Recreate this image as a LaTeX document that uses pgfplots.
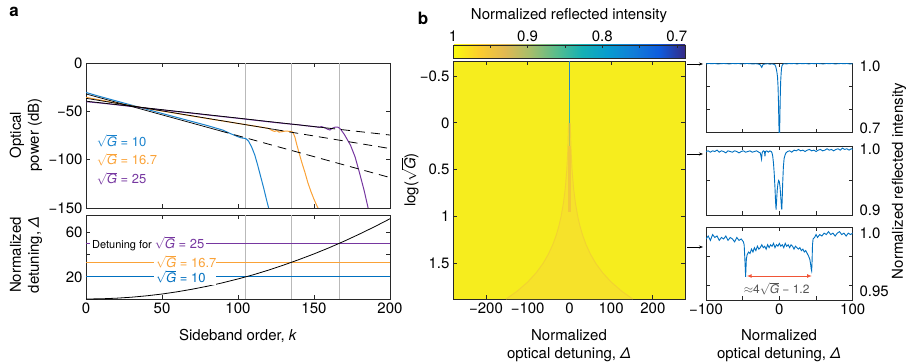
\documentclass[border=0pt]{standalone}
\usepackage{pgfplots}
\pgfplotsset{compat=1.18}
\usepackage{fontspec}
\setmainfont{TeX Gyre Heros}
\usetikzlibrary{arrows.meta}
\definecolor{cblue}{RGB}{25,130,205}
\definecolor{cblue2}{RGB}{0,112,192}
\definecolor{corange}{RGB}{250,162,55}
\definecolor{cpurple}{RGB}{118,55,160}
\definecolor{axgray}{RGB}{40,40,40}
\definecolor{vgray}{RGB}{185,185,185}
\definecolor{hmyellow}{RGB}{246,237,30}
\definecolor{hmcusp}{RGB}{246,226,42}
\definecolor{hmedge}{RGB}{242,210,50}
\definecolor{cred}{RGB}{240,85,55}
\newcommand{\fs}[1]{\fontsize{#1}{#1}\selectfont}
\newcommand{\sG}{$\sqrt{\textit{G}}$}
\pgfplotsset{
  colormap={parula}{rgb255=(53,42,135) rgb255=(15,92,221) rgb255=(18,125,216) rgb255=(7,156,207) rgb255=(21,177,180) rgb255=(89,189,140) rgb255=(165,190,107) rgb255=(225,185,82) rgb255=(252,206,46) rgb255=(249,251,14)},
  base/.style={scale only axis, anchor=south west,
    axis line style={draw=axgray,line width=0.8pt},
    tick style={draw=axgray,line width=0.8pt},
    tick align=inside, major tick length=4pt,
    tick label style={font=\fs{15}}, clip=true},
}
\begin{document}
\begin{tikzpicture}
% ---------------- panel a, top
\begin{axis}[base, at={(86pt,-208pt)}, width=304pt, height=145pt,
  xmin=0, xmax=200, ymin=-150, ymax=0,
  xtick={0,50,100,150,200}, xticklabels={},
  ytick={-150,-100,-50,0}, yticklabels={−150,−100,−50,0}]
\addplot[vgray, line width=1pt] coordinates {(105,-150) (105,0)};
\addplot[vgray, line width=1pt] coordinates {(135,-150) (135,0)};
\addplot[vgray, line width=1pt] coordinates {(167,-150) (167,0)};
\addplot[cblue, line width=1pt] coordinates {(0,-30.5) (10,-35) (20,-39.3) (30,-43.6) (40,-47.9) (50,-52.2) (60,-56.4) (70,-60.6) (80,-64.8) (90,-69.4) (94.7,-72.8) (100,-76.3) (102,-77.4) (104.6,-78) (105.5,-78.6) (107,-81) (109,-87) (111,-95) (113,-106) (115,-118) (117,-130) (119,-143) (120.5,-152)};
\addplot[corange, line width=1pt] coordinates {(0,-35.5) (10,-38.5) (20,-41.5) (30,-44.3) (40,-47) (50,-49.7) (60,-52.3) (70,-54.9) (80,-57.5) (90,-60) (100,-62.5) (110,-65) (115,-66.3) (120,-67.6) (122,-69.5) (124,-70.8) (125.5,-70) (127,-71.5) (129,-71) (131,-70.5) (133,-70.6) (135.5,-71) (136.5,-73) (137.5,-77) (138.6,-84) (140,-92) (142,-103) (144,-113) (146,-124) (148,-133) (150,-141) (152,-148) (153.3,-152)};
\addplot[cpurple, line width=1pt] coordinates {(0,-40) (10,-41.5) (20,-43.2) (30,-45) (40,-46.8) (50,-48.5) (60,-50.3) (70,-52) (80,-53.8) (90,-55.5) (100,-57.2) (110,-59) (120,-60.8) (130,-62.5) (140,-64) (145,-65) (150,-65.8) (153,-66.5) (155,-65.8) (157,-67) (159,-68.5) (160.5,-69.3) (162,-67.5) (164,-66.3) (166,-66.5) (167.5,-68.5) (170,-74) (172,-79.5) (174,-85) (177,-97) (180,-114) (183,-132) (185.6,-150) (186,-153)};
\addplot[black, line width=0.7pt] coordinates {(0,-32) (88,-70.06)};
\addplot[black, line width=0.8pt, dash pattern=on 9pt off 6pt] coordinates {(88,-70.06) (200,-118.5)};
\addplot[black, line width=0.7pt] coordinates {(0,-36.5) (124,-68.74)};
\addplot[black, line width=0.8pt, dash pattern=on 9pt off 6pt] coordinates {(124,-68.74) (200,-88.5)};
\addplot[black, line width=0.7pt] coordinates {(0,-39.5) (158,-67.15)};
\addplot[black, line width=0.8pt, dash pattern=on 9pt off 6pt] coordinates {(158,-67.15) (200,-74.5)};
\node[anchor=west, inner sep=0pt, text=cblue, font=\fs{13}] at (axis cs:7,-80.4) {\sG\ = 10};
\node[anchor=west, inner sep=0pt, text=corange, font=\fs{13}] at (axis cs:7,-99.6) {\sG\ = 16.7};
\node[anchor=west, inner sep=0pt, text=cpurple, font=\fs{13}] at (axis cs:7,-119.3) {\sG\ = 25};
\end{axis}
% ---------------- panel a, bottom
\begin{axis}[base, at={(86pt,-299pt)}, width=304pt, height=84pt,
  xmin=0, xmax=200, ymin=0, ymax=76,
  xtick={0,50,100,150,200}, xticklabels={0,50,100,150,200},
  ytick={20,40,60}, yticklabels={20,,60}]
\addplot[vgray, line width=1pt] coordinates {(105,0) (105,76)};
\addplot[vgray, line width=1pt] coordinates {(135,0) (135,76)};
\addplot[vgray, line width=1pt] coordinates {(167,0) (167,76)};
\addplot[cblue2, line width=1pt] coordinates {(0,20) (200,20)};
\addplot[corange, line width=1pt] coordinates {(0,33.4) (200,33.4)};
\addplot[cpurple, line width=1pt] coordinates {(0,50) (200,50)};
\addplot[black, line width=0.8pt] coordinates {(0,0) (10,0.18) (20,0.73) (30,1.63) (40,2.9) (50,4.5) (60,6.53) (70,8.9) (80,11.6) (90,14.7) (100,18.14) (110,21.9) (120,26.1) (130,30.7) (140,35.6) (150,40.8) (160,46.4) (170,52.4) (180,58.8) (190,65.5) (200,72.6)};
\node[anchor=west, fill=white, inner sep=2pt, font=\fs{11}] at (axis cs:2.6,50) {Detuning for \textcolor{cpurple}{\fs{13}\sG\ = 25}};
\node[anchor=west, fill=white, inner sep=2pt, text=corange, font=\fs{13}] at (axis cs:44.7,33.4) {\makebox[58pt][l]{\sG\ = 16.7}};
\node[anchor=west, fill=white, inner sep=2pt, text=cblue2, font=\fs{13}] at (axis cs:44.7,20) {\makebox[58pt][l]{\sG\ = 10}};
\end{axis}
% ---------------- panel b, heat map
\begin{axis}[base, at={(453pt,-299pt)}, width=232pt, height=238pt,
  xmin=-279, xmax=277, ymin=-0.66, ymax=1.88, y dir=reverse,
  axis background/.style={fill=hmyellow},
  xtick={-200,-100,0,100,200}, xticklabels={−200,−100,0,100,200},
  ytick={-0.5,0,0.5,1,1.5}, yticklabels={−0.5,0,0.5,1,1.5},
  colormap name=parula, point meta min=0.689, point meta max=1,
  colorbar horizontal,
  colorbar style={at={(0,1.0126)}, anchor=south west,
    scale only axis, width=232pt, height=13pt, x dir=reverse,
    axis line style={draw=axgray,line width=0.8pt},
    tick style={draw=axgray,line width=0.6pt},
    xtick={0.7,0.75,0.8,0.85,0.9,0.95,1},
    xticklabels={0.7,,0.8,,0.9,,1},
    xticklabel pos=upper, xtick pos=right, tick align=inside,
    major tick length=3pt, tick label style={font=\fs{15}}}]
\addplot[draw=none, fill=hmcusp] coordinates {(-0.44,-0.66) (-0.8,-0.4) (-2,0) (-4,0.3) (-6.3,0.5) (-10,0.7) (-14.2,0.85) (-20,1) (-25.2,1.1) (-31.7,1.2) (-39.9,1.3) (-50.2,1.4) (-63.2,1.5) (-79.6,1.6) (-100.2,1.7) (-126.2,1.8) (-151.7,1.88) (151.7,1.88) (126.2,1.8) (100.2,1.7) (79.6,1.6) (63.2,1.5) (50.2,1.4) (39.9,1.3) (31.7,1.2) (25.2,1.1) (20,1) (14.2,0.85) (10,0.7) (6.3,0.5) (4,0.3) (2,0) (0.8,-0.4) (0.44,-0.66)} --cycle;
\addplot[hmedge, line width=0.9pt] coordinates {(-2,0) (-4,0.3) (-6.3,0.5) (-10,0.7) (-14.2,0.85) (-20,1) (-25.2,1.1) (-31.7,1.2) (-39.9,1.3) (-50.2,1.4) (-63.2,1.5) (-79.6,1.6) (-100.2,1.7) (-126.2,1.8) (-151.7,1.88)};
\addplot[hmedge, line width=0.9pt] coordinates {(2,0) (4,0.3) (6.3,0.5) (10,0.7) (14.2,0.85) (20,1) (25.2,1.1) (31.7,1.2) (39.9,1.3) (50.2,1.4) (63.2,1.5) (79.6,1.6) (100.2,1.7) (126.2,1.8) (151.7,1.88)};
\addplot[color={rgb,255:red,242;green,200;blue,55}, line width=2.2pt] coordinates {(0,0.25) (0,0.95)};
\addplot[color={rgb,255:red,185;green,195;blue,85}, line width=1.8pt] coordinates {(0,0) (0,0.25)};
\addplot[color={rgb,255:red,55;green,178;blue,172}, line width=1.8pt] coordinates {(0,-0.35) (0,0)};
\addplot[color={rgb,255:red,35;green,135;blue,195}, line width=1.8pt] coordinates {(0,-0.66) (0,-0.35)};
\end{axis}
% ---------------- right panels
\begin{axis}[base, at={(706pt,-132.7pt)}, width=146.7pt, height=69.7pt,
  xmin=-100, xmax=100, ymin=0.7, ymax=1.0,
  xtick={-100,-50,0,50,100}, xticklabels={},
  ytick={0.7,0.8,0.9,1.0}, yticklabels={}]
\addplot[cblue2, line width=0.9pt] coordinates {(-100,0.996) (-96,0.998) (-92,0.997) (-88,0.998) (-84,0.996) (-80,0.997) (-76,0.998) (-72,0.997) (-68,0.996) (-64,0.998) (-60,0.997) (-56,0.998) (-52,0.996) (-48,0.997) (-44,0.998) (-40,0.997) (-36,0.996) (-32,0.997) (-28,0.995) (-26,0.992) (-25,0.986) (-24,0.981) (-23,0.989) (-22,0.994) (-19,0.996) (-16,0.997) (-13,0.995) (-10,0.996) (-8,0.995) (-6,0.992) (-5,0.985) (-4,0.972) (-3.2,0.958) (-2.5,0.94) (-1.8,0.9) (-1.2,0.83) (-0.7,0.75) (-0.3,0.69) (0.3,0.69) (0.7,0.76) (1.2,0.85) (1.8,0.92) (2.4,0.955) (3,0.978) (3.8,0.99) (5,0.995) (7,0.997) (10,0.996) (13,0.998) (16,0.997) (20,0.998) (24,0.996) (28,0.998) (32,0.997) (36,0.998) (40,0.996) (44,0.998) (48,0.997) (52,0.998) (56,0.997) (60,0.996) (64,0.998) (68,0.997) (72,0.998) (76,0.996) (80,0.997) (84,0.998) (88,0.997) (92,0.998) (96,0.996) (100,0.997)};
\end{axis}
\begin{axis}[base, at={(706pt,-215pt)}, width=146.7pt, height=69pt,
  xmin=-100, xmax=100, ymin=0.9, ymax=1.0,
  xtick={-100,-50,0,50,100}, xticklabels={},
  ytick={0.9,0.95,1.0}, yticklabels={}]
\addplot[cblue2, line width=0.9pt] coordinates {(-100,0.992) (-97,0.993) (-94,0.991) (-91,0.993) (-88,0.992) (-85,0.994) (-82,0.991) (-79,0.993) (-76,0.992) (-73,0.990) (-70,0.993) (-67,0.992) (-64,0.991) (-61,0.993) (-58,0.992) (-55,0.990) (-52,0.992) (-49,0.993) (-46,0.991) (-43,0.992) (-40,0.993) (-37,0.991) (-34,0.992) (-31,0.993) (-28,0.991) (-26,0.99) (-25,0.985) (-24.3,0.981) (-23.5,0.99) (-22,0.993) (-20.3,0.992) (-19.6,0.985) (-19,0.992) (-17,0.993) (-15,0.991) (-13,0.993) (-11,0.992) (-10,0.99) (-9,0.985) (-8,0.975) (-7,0.96) (-6,0.94) (-5.2,0.92) (-4.5,0.908) (-3.8,0.92) (-3,0.935) (-2,0.945) (-1,0.95) (0,0.948) (1,0.94) (2,0.925) (2.8,0.912) (3.3,0.908) (3.8,0.92) (4.5,0.945) (5.5,0.97) (6.5,0.982) (7.8,0.987) (9,0.99) (11,0.992) (14,0.993) (17,0.991) (20,0.994) (23,0.993) (26,0.995) (29,0.993) (32,0.994) (35,0.992) (38,0.994) (41,0.995) (44,0.993) (47,0.994) (50,0.992) (53,0.994) (56,0.995) (59,0.993) (62,0.994) (65,0.996) (68,0.994) (71,0.995) (74,0.993) (77,0.995) (80,0.996) (83,0.994) (86,0.997) (89,0.995) (92,0.996) (95,0.994) (98,0.996) (100,0.995)};
\end{axis}
\begin{axis}[base, at={(706pt,-300pt)}, width=146.7pt, height=72.7pt,
  xmin=-100, xmax=100, ymin=0.95, ymax=1.0,
  xtick={-100,-50,0,50,100}, xticklabels={−100,,0,,100},
  ytick={0.95,0.96,0.98,1.0}, yticklabels={}]
\addplot[cblue2, line width=0.9pt] coordinates {(-100,0.992) (-97,0.994) (-94,0.991) (-91,0.995) (-88,0.993) (-85,0.994) (-82,0.991) (-79,0.993) (-76,0.992) (-73,0.994) (-70,0.991) (-67,0.993) (-64,0.992) (-61,0.990) (-58,0.993) (-55,0.991) (-52,0.992) (-49,0.990) (-48,0.988) (-47.2,0.98) (-46.5,0.972) (-46,0.966) (-45.5,0.972) (-45,0.978) (-44,0.981) (-42,0.983) (-40,0.982) (-38,0.985) (-36,0.983) (-34,0.986) (-32,0.984) (-30,0.987) (-28,0.985) (-26,0.986) (-24,0.988) (-22,0.986) (-20,0.987) (-18,0.985) (-16,0.988) (-14,0.986) (-12,0.988) (-10,0.987) (-8,0.989) (-6,0.986) (-4,0.988) (-2,0.987) (0,0.989) (2,0.987) (4,0.988) (6,0.986) (8,0.989) (10,0.987) (12,0.988) (14,0.986) (16,0.988) (18,0.987) (20,0.985) (22,0.987) (24,0.986) (26,0.985) (28,0.986) (30,0.984) (32,0.985) (34,0.983) (36,0.984) (38,0.982) (40,0.980) (41.5,0.978) (42.5,0.975) (43.5,0.971) (44,0.970) (44.5,0.975) (45.2,0.988) (46,0.992) (48,0.993) (50,0.995) (52,0.993) (55,0.995) (58,0.994) (61,0.996) (64,0.995) (67,0.997) (70,0.995) (73,0.996) (76,0.994) (79,0.996) (82,0.997) (85,0.995) (88,0.996) (91,0.994) (94,0.996) (97,0.995) (100,0.996)};
\addplot[cred, line width=1pt, {Latex[length=5pt,width=4pt]}-{Latex[length=5pt,width=4pt]}] coordinates {(-44.5,0.9665) (44.5,0.9665)};
\node[text=axgray!80, font=\fs{12}] at (axis cs:-3.7,0.958) {$\approx$4\sG\ − 1.2};
\end{axis}
% ---------------- right-panel tick labels (placed as in the reference)
\node[anchor=west, font=\fs{15}] at (856pt,-66.7pt) {1.0};
\node[anchor=west, font=\fs{15}] at (856pt,-128.3pt) {0.7};
\node[anchor=west, font=\fs{15}] at (856pt,-149.3pt) {1.0};
\node[anchor=west, font=\fs{15}] at (856pt,-210.7pt) {0.9};
\node[anchor=west, font=\fs{15}] at (856pt,-233.3pt) {1.0};
\node[anchor=west, font=\fs{15}] at (856pt,-291.7pt) {0.95};
% ---------------- annotations
\draw[-{Stealth[length=4pt,width=3pt]}, line width=0.6pt] (687pt,-64pt) -- (703pt,-64pt);
\draw[-{Stealth[length=4pt,width=3pt]}, line width=0.6pt] (687pt,-154pt) -- (703pt,-154pt);
\draw[-{Stealth[length=4pt,width=3pt]}, line width=0.6pt] (687pt,-247pt) -- (703pt,-247pt);
\node[font=\bfseries\fs{17}] at (14pt,-12pt) {a};
\node[font=\bfseries\fs{17}] at (423pt,-18pt) {b};
\node[rotate=90, align=center, font=\fontsize{15}{18}\selectfont] at (26pt,-135pt) {Optical\\power (dB)};
\node[rotate=90, align=center, font=\fontsize{15}{18}\selectfont] at (26pt,-255pt) {Normalized\\detuning, \textit{Δ}};
\node[font=\fs{15}] at (238pt,-336pt) {Sideband order, \textit{k}};
\node[font=\fs{15}] at (569pt,-16pt) {Normalized reflected intensity};
\node[rotate=90, font=\fs{15}] at (410pt,-180pt) {log(\sG)};
\node[align=center, font=\fontsize{15}{18}\selectfont] at (569pt,-346pt) {Normalized\\optical detuning, \textit{Δ}};
\node[align=center, font=\fontsize{15}{18}\selectfont] at (779pt,-346pt) {Normalized\\optical detuning, \textit{Δ}};
\node[rotate=90, font=\fs{15}] at (899pt,-181pt) {Normalized reflected intensity};
\pgfresetboundingbox
\path[use as bounding box] (0pt,0pt) rectangle (909pt,-363pt);
\end{tikzpicture}
\end{document}
